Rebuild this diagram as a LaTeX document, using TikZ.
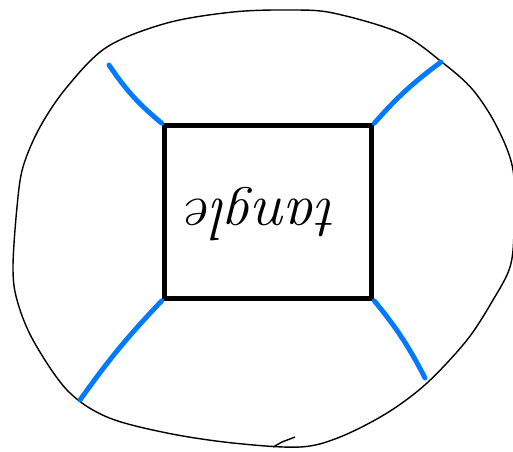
\documentclass[tikz,border=0pt]{standalone}
\usepackage{tikz}
\usetikzlibrary{positioning,calc}
\definecolor{PenBlue}{RGB}{0,122,255}
\tikzset{
  rim/.style  ={draw=black, line width=.8pt, line join=round},
  box/.style  ={rectangle, draw=black, line width=2.9pt, minimum width=4.15cm,
                minimum height=3.45cm, inner sep=0pt},
  word/.style ={font=\fontsize{34}{38}\selectfont\itshape, inner sep=0pt},
  wire/.style ={draw=PenBlue, line width=2.8pt, line cap=round},
}

\begin{document}
\begin{tikzpicture}[x=0.02cm,y=-0.02cm]
  \useasboundingbox (0,0) rectangle (513,451);

  % outer outline
  \draw[rim] plot[smooth cycle,tension=.55] coordinates {
    (290,10) (333,13) (400,33) (443,63) (473,90) (497,127) (513,170)
    (514,230) (510,267) (493,300) (467,340) (427,383) (387,413)
    (340,437) (300,447) (233,443) (167,433) (107,417) (67,390)
    (33,340) (17,300) (13,267) (17,207) (23,167) (40,127) (67,87)
    (107,47) (167,23) (233,12)};
  \draw[rim] (273,447) -- (282,442) -- (295,437);

  \node[box] (box) at (268,212) {};
  \node[word] (label) at (262,214) {\rotatebox{180}{tangle}};

  \coordinate (tl) at (109,65);
  \coordinate (tr) at (441,62);
  \coordinate (bl) at (80,400);
  \coordinate (br) at (425,378);

  \draw[wire] (box.north west) to[bend left=8] (tl);
  \draw[wire] (box.north east) to[bend left=6] (tr);
  \draw[wire] (box.south west) to[bend right=4] (bl);
  \draw[wire] (box.south east) to[bend left=6] (br);
\end{tikzpicture}
\end{document}
